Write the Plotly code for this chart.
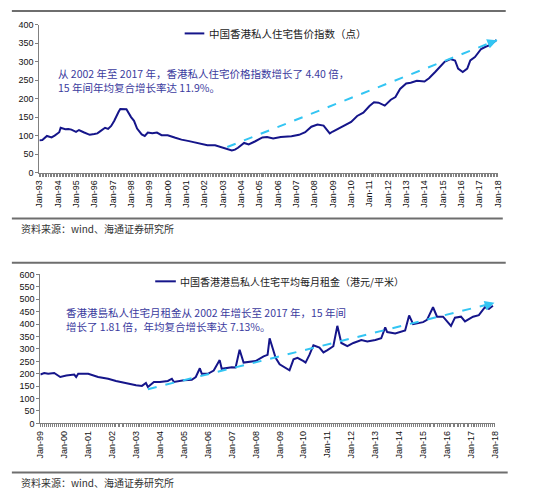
import plotly.graph_objects as go

# ---------------- data ----------------
price_dates = ["1993-01","1993-03","1993-06","1993-09","1993-11","1994-02","1994-03","1994-06","1994-08","1994-10",
               "1995-01","1995-03","1995-06","1995-08","1995-10","1996-01","1996-03","1996-05","1996-08","1996-10",
               "1996-12","1997-02","1997-04","1997-05","1997-06","1997-09","1997-10","1998-01","1998-03","1998-05",
               "1998-08","1998-10","1998-12","1999-03","1999-06","1999-09","2000-01","2000-06","2000-10","2001-03",
               "2001-06","2001-11","2002-03","2002-08","2002-12","2003-04","2003-07","2003-09","2003-11","2004-03",
               "2004-06","2004-10","2005-03","2005-06","2005-10","2006-03","2006-06","2006-10","2007-03","2007-07",
               "2007-11","2008-03","2008-07","2008-10","2008-11","2009-01","2009-05","2009-09","2010-01","2010-05",
               "2010-09","2011-01","2011-04","2011-07","2011-11","2012-03","2012-06","2012-09","2013-01","2013-04",
               "2013-08","2014-01","2014-04","2014-08","2014-11","2015-02","2015-06","2015-09","2015-11","2016-02",
               "2016-05","2016-07","2016-10","2017-02","2017-05","2017-08","2017-12"]
price_values = [87,88,99,95,100,109,121,117,118,116,
                110,115,109,106,102,104,106,112,121,118,
                126,140,160,165,172,172,171,150,140,119,
                103,99,108,106,108,101,101,94,89,85,
                82,77,74,74,69,65,60,62,67,80,
                76,84,95,96,92,96,96,98,102,109,
                124,130,127,111,106,111,120,128,137,153,
                162,180,190,189,181,197,204,226,241,243,
                248,246,255,272,285,299,307,303,281,272,
                281,303,312,334,340,345,358]

rent_dates = ["1999-01","1999-03","1999-05","1999-08","1999-11","2000-02","2000-06","2000-07","2000-08","2001-01",
              "2001-06","2001-11","2002-03","2002-08","2003-01","2003-04","2003-06","2003-07","2003-10","2004-01",
              "2004-05","2004-07","2004-08","2005-01","2005-05","2005-07","2005-09","2005-10","2006-01","2006-04",
              "2006-07","2006-08","2007-01","2007-03","2007-05","2007-07","2008-01","2008-05","2008-07","2008-08",
              "2008-11","2009-01","2009-05","2009-06","2009-08","2009-10","2010-01","2010-02","2010-04","2010-06",
              "2010-09","2010-11","2011-01","2011-04","2011-06","2011-08","2011-11","2012-02","2012-06","2012-09",
              "2013-01","2013-04","2013-06","2013-07","2013-11","2014-04","2014-06","2014-08","2015-01","2015-03",
              "2015-06","2015-08","2015-11","2016-03","2016-05","2016-08","2016-10","2017-02","2017-05","2017-08",
              "2017-10","2017-12"]
rent_values = [197,203,200,203,187,193,197,187,200,200,
               187,180,171,161,154,151,163,147,167,167,
               171,180,167,174,176,187,222,200,200,213,
               255,220,226,225,297,245,251,270,276,343,
               264,238,218,214,258,264,251,245,276,315,
               305,286,295,311,393,324,311,324,336,330,
               336,343,387,368,362,374,435,400,408,417,
               468,430,430,393,426,430,411,430,436,468,
               461,474]

price_trend_x = ["2003-04-01", "2017-12-15"]
price_trend_y = [69, 358]
rent_trend_x = ["2003-07-01", "2017-12-25"]
rent_trend_y = [138, 486]

price_name = "中国香港私人住宅售价指数（点）"
rent_name = "中国香港港島私人住宅平均每月租金（港元/平米）"
price_note = "从 2002 年至 2017 年，香港私人住宅价格指数增长了 4.40 倍，<br>15 年间年均复合增长率达 11.9%。"
rent_note = "香港港島私人住宅月租金从 2002 年增长至 2017 年，15 年间<br>增长了 1.81 倍，年均复合增长率达 7.13%。"
source_text = "资料来源：wind、海通证券研究所"

# ---------------- styling ----------------
W, H = 550, 497
def px(x): return x / W
def py(y): return 1 - y / H

NAVY = "#15158a"
TREND = "#33c5f3"
NOTE = "#3b3b9e"
AXIS = "#808080"
TICKFONT = dict(family="Liberation Sans, Arial", size=9, color="#111")
CJK = "Noto Sans CJK SC"

fig = go.Figure()
fig.add_trace(go.Scatter(x=price_dates, y=price_values, mode="lines",
                         line=dict(color=NAVY, width=2), xaxis="x", yaxis="y"))
fig.add_trace(go.Scatter(x=price_trend_x, y=price_trend_y, mode="lines",
                         line=dict(color=TREND, width=2, dash="dash"), xaxis="x", yaxis="y"))
fig.add_trace(go.Scatter(x=rent_dates, y=rent_values, mode="lines",
                         line=dict(color=NAVY, width=2), xaxis="x2", yaxis="y2"))
fig.add_trace(go.Scatter(x=rent_trend_x, y=rent_trend_y, mode="lines",
                         line=dict(color=TREND, width=2, dash="dash"), xaxis="x2", yaxis="y2"))

def xaxis_cfg(domain, anchor, start):
    return dict(domain=domain, anchor=anchor, type="date",
                range=[start, "2018-01-01"], tick0=start, dtick="M12",
                tickformat="%b-%y", tickangle=-90, tickfont=TICKFONT,
                ticks="outside", ticklen=3, tickcolor=AXIS,
                minor=dict(dtick="M1", ticks="outside", ticklen=3, tickcolor=AXIS),
                showline=True, linecolor=AXIS, linewidth=1,
                showgrid=False, zeroline=False, fixedrange=True)

def yaxis_cfg(domain, anchor, top):
    return dict(domain=domain, anchor=anchor, range=[0, top], dtick=50,
                tickfont=TICKFONT, ticks="outside", ticklen=3, tickcolor=AXIS,
                showline=True, linecolor=AXIS, linewidth=1,
                showgrid=False, zeroline=False, fixedrange=True)

fig.update_layout(
    width=W, height=H, margin=dict(l=0, r=0, t=0, b=0),
    paper_bgcolor="white", plot_bgcolor="white", showlegend=False,
    xaxis=xaxis_cfg([px(35), px(502)], "y", "1993-01-01"),
    yaxis=yaxis_cfg([py(171), py(20)], "x", 400),
    xaxis2=xaxis_cfg([px(36), px(499)], "y2", "1999-01-01"),
    yaxis2=yaxis_cfg([py(427), py(275)], "x2", 600),
)

shapes = []
for y0, x0, x1 in [(6, 7, 510), (218, 7, 507), (263, 7, 510), (477, 7, 512)]:
    shapes.append(dict(type="line", xref="paper", yref="paper",
                       x0=px(x0), x1=px(x1), y0=py(y0), y1=py(y0),
                       line=dict(color="#6e6e6e", width=2)))
# legend samples
shapes.append(dict(type="line", xref="paper", yref="paper", x0=px(183), x1=px(203),
                   y0=py(29), y1=py(29), line=dict(color=NAVY, width=2)))
shapes.append(dict(type="line", xref="paper", yref="paper", x0=px(153), x1=px(174),
                   y0=py(282), y1=py(282), line=dict(color=NAVY, width=2)))
fig.update_layout(shapes=shapes)

ann = []
ann.append(dict(x=px(206), y=py(29), xref="paper", yref="paper", text=price_name,
                showarrow=False, xanchor="left", yanchor="middle",
                font=dict(family=CJK, size=10.5, color="#222")))
ann.append(dict(x=px(176), y=py(282), xref="paper", yref="paper", text=rent_name,
                showarrow=False, xanchor="left", yanchor="middle",
                font=dict(family=CJK, size=10, color="#222")))
ann.append(dict(x=px(52), y=py(77), xref="paper", yref="paper", text=price_note,
                showarrow=False, xanchor="left", yanchor="middle", align="left",
                font=dict(family=CJK, size=10.5, color=NOTE)))
ann.append(dict(x=px(60), y=py(321), xref="paper", yref="paper", text=rent_note,
                showarrow=False, xanchor="left", yanchor="middle", align="left",
                font=dict(family=CJK, size=10.5, color=NOTE)))
ann.append(dict(x=px(14), y=py(228), xref="paper", yref="paper", text=source_text,
                showarrow=False, xanchor="left", yanchor="middle",
                font=dict(family=CJK, size=10, color="#333")))
ann.append(dict(x=px(14), y=py(487), xref="paper", yref="paper", text=source_text,
                showarrow=False, xanchor="left", yanchor="middle",
                font=dict(family=CJK, size=10, color="#333")))
# arrowheads at the end of trend lines
ann.append(dict(x=price_trend_x[-1], y=price_trend_y[-1], xref="x", yref="y",
                ax=-10, ay=4, axref="pixel", ayref="pixel", text="", showarrow=True,
                arrowhead=2, arrowsize=1.3, arrowwidth=1.5, arrowcolor=TREND, standoff=0))
ann.append(dict(x=rent_trend_x[-1], y=rent_trend_y[-1], xref="x2", yref="y2",
                ax=-10, ay=3, axref="pixel", ayref="pixel", text="", showarrow=True,
                arrowhead=2, arrowsize=1.3, arrowwidth=1.5, arrowcolor=TREND, standoff=0))
fig.update_layout(annotations=ann)

fig.write_html("out.html", config={"displayModeBar": False},
               post_script="document.body.style.margin='0';")
